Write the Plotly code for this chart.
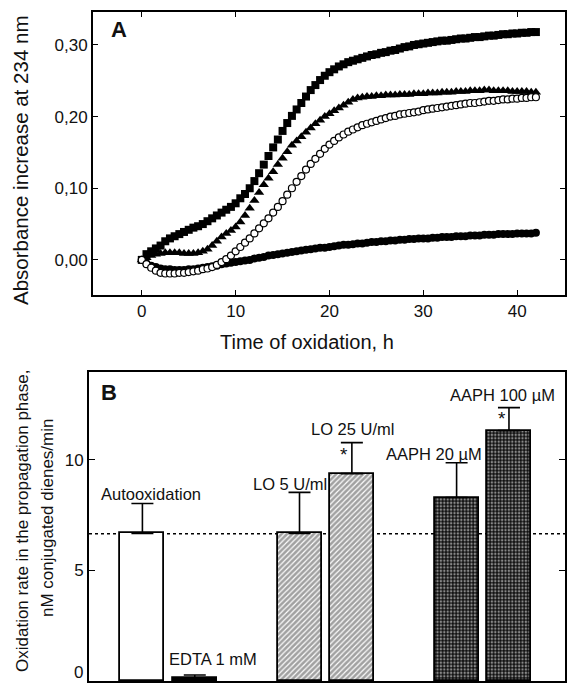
import plotly.graph_objects as go

# ---------------- Panel A data ----------------
time_h = [0, 0.5, 1, 1.5, 2, 2.5, 3, 3.5, 4, 4.5, 5, 5.5, 6, 6.5, 7, 7.5, 8, 8.5, 9, 9.5,
          10, 10.5, 11, 11.5, 12, 12.5, 13, 13.5, 14, 14.5, 15, 15.5, 16, 16.5, 17, 17.5,
          18, 18.5, 19, 19.5, 20, 20.5, 21, 21.5, 22, 22.5, 23, 23.5, 24, 24.5, 25, 25.5,
          26, 26.5, 27, 27.5, 28, 28.5, 29, 29.5, 30, 30.5, 31, 31.5, 32, 32.5, 33, 33.5,
          34, 34.5, 35, 35.5, 36, 36.5, 37, 37.5, 38, 38.5, 39, 39.5, 40, 40.5, 41, 41.5, 42]

squares = [0.000, 0.008, 0.012, 0.016, 0.020, 0.026, 0.030, 0.033, 0.036, 0.039,
           0.042, 0.045, 0.047, 0.050, 0.054, 0.058, 0.062, 0.066, 0.070, 0.074,
           0.079, 0.086, 0.092, 0.100, 0.110, 0.121, 0.133, 0.145, 0.157, 0.168,
           0.180, 0.191, 0.201, 0.210, 0.219, 0.228, 0.237, 0.244, 0.251, 0.257,
           0.262, 0.266, 0.270, 0.273, 0.276, 0.278, 0.280, 0.282, 0.284, 0.286,
           0.287, 0.289, 0.290, 0.292, 0.293, 0.295, 0.297, 0.298, 0.300, 0.301,
           0.302, 0.303, 0.304, 0.305, 0.306, 0.306, 0.307, 0.308, 0.309, 0.309,
           0.310, 0.311, 0.311, 0.312, 0.313, 0.313, 0.314, 0.315, 0.315, 0.316,
           0.316, 0.317, 0.317, 0.318, 0.318]

triangles = [0.000, 0.003, 0.006, 0.008, 0.009, 0.010, 0.010, 0.010, 0.010, 0.009,
             0.009, 0.009, 0.010, 0.012, 0.015, 0.020, 0.026, 0.032, 0.037, 0.041,
             0.046, 0.053, 0.062, 0.072, 0.083, 0.094, 0.105, 0.114, 0.123, 0.133,
             0.142, 0.151, 0.160, 0.166, 0.172, 0.178, 0.184, 0.190, 0.195, 0.200,
             0.204, 0.208, 0.212, 0.216, 0.220, 0.224, 0.226, 0.227, 0.228, 0.228,
             0.229, 0.229, 0.230, 0.230, 0.230, 0.231, 0.231, 0.231, 0.232, 0.232,
             0.232, 0.233, 0.233, 0.233, 0.234, 0.234, 0.234, 0.235, 0.235, 0.235,
             0.236, 0.236, 0.236, 0.237, 0.237, 0.236, 0.236, 0.236, 0.236, 0.235,
             0.235, 0.235, 0.235, 0.234, 0.234]

open_circles = [0.000, -0.006, -0.011, -0.015, -0.018, -0.019, -0.019, -0.019, -0.018, -0.018,
                -0.017, -0.016, -0.015, -0.013, -0.012, -0.010, -0.007, -0.003, 0.001, 0.006,
                0.012, 0.018, 0.024, 0.030, 0.037, 0.044, 0.051, 0.058, 0.066, 0.074,
                0.082, 0.091, 0.100, 0.109, 0.117, 0.126, 0.134, 0.141, 0.148, 0.155,
                0.161, 0.166, 0.171, 0.175, 0.179, 0.182, 0.185, 0.188, 0.190, 0.192,
                0.194, 0.196, 0.198, 0.200, 0.201, 0.203, 0.204, 0.205, 0.206, 0.207,
                0.209, 0.210, 0.211, 0.212, 0.213, 0.214, 0.215, 0.216, 0.217, 0.218,
                0.219, 0.219, 0.220, 0.221, 0.222, 0.222, 0.223, 0.224, 0.224, 0.225,
                0.225, 0.226, 0.226, 0.227, 0.227]

filled_circles = [0.000, -0.005, -0.008, -0.010, -0.012, -0.013, -0.013, -0.014, -0.014, -0.014,
                  -0.013, -0.013, -0.012, -0.011, -0.010, -0.009, -0.008, -0.006, -0.005, -0.004,
                  -0.003, -0.002, -0.001, 0.000, 0.002, 0.003, 0.004, 0.006, 0.007, 0.008,
                  0.009, 0.010, 0.011, 0.012, 0.013, 0.014, 0.015, 0.016, 0.017, 0.017,
                  0.018, 0.019, 0.020, 0.021, 0.021, 0.022, 0.023, 0.023, 0.024, 0.025,
                  0.025, 0.026, 0.026, 0.027, 0.027, 0.028, 0.028, 0.029, 0.029, 0.030,
                  0.030, 0.030, 0.031, 0.031, 0.032, 0.032, 0.032, 0.033, 0.033, 0.033,
                  0.034, 0.034, 0.034, 0.035, 0.035, 0.035, 0.036, 0.036, 0.036, 0.036,
                  0.037, 0.037, 0.037, 0.037, 0.038]

a_xticks = [0, 10, 20, 30, 40]
a_yticks = [0.0, 0.1, 0.2, 0.3]

# ---------------- Panel B data ----------------
conditions = ["Autooxidation", "EDTA 1 mM", "LO 5 U/ml", "LO 25 U/ml", "AAPH 20 µM", "AAPH 100 µM"]
rates = [6.67, 0.13, 6.67, 9.37, 8.29, 11.31]
rate_err = [1.35, 0.14, 1.85, 1.40, 1.57, 1.04]
significant = [False, False, False, True, False, True]
baseline_rate = 6.65
b_yticks = [5, 10]
b_zero_label = "0"

# ---------------- layout / style ----------------
FONT = "Liberation Sans, Arial, Helvetica, sans-serif"
W, H = 567, 683
bar_slots = [0, 1, 3, 4, 6, 7]
fills = ["white", "black", "white", "white", "#111111", "#111111"]
shapes_pat = ["", "", "/", "/", ".", "."]
pat_fg = ["black", "black", "black", "black", "white", "white"]
pat_bg = ["white", "black", "white", "white", "#111111", "#111111"]
label_pos = [(0.17, 8.47), (1.35, 0.99), (2.81, 8.92), (4.02, 11.4), (5.56, 10.27), (6.87, 12.93)]
star_pos = [None, None, None, (3.84, 10.25), None, (6.87, 11.85)]

fig = go.Figure()

def sc(y, symbol, size, fill, lw=0):
    return go.Scatter(x=time_h, y=y, mode="markers", xaxis="x", yaxis="y",
                      marker=dict(symbol=symbol, size=size, color=fill,
                                  line=dict(color="black", width=lw)),
                      showlegend=False, hoverinfo="skip")

fig.add_trace(sc(filled_circles, "circle", 8, "black"))
fig.add_trace(sc(triangles, "triangle-up", 9, "black"))
fig.add_trace(sc(squares, "square", 8, "black"))
fig.add_trace(sc(open_circles, "circle", 7, "white", 1.2))

fig.add_trace(go.Bar(
    x=bar_slots, y=rates, width=0.84, xaxis="x2", yaxis="y2",
    marker=dict(color=fills, line=dict(color="black", width=1.8),
                pattern=dict(shape=shapes_pat, fgcolor=pat_fg, bgcolor=pat_bg,
                             size=[8, 8, 3.8, 3.8, 3.4, 3.4],
                             solidity=[0.3, 0.3, 0.7, 0.7, 0.4, 0.4])),
    error_y=dict(type="data", symmetric=False, array=rate_err, arrayminus=[0] * len(rates),
                 color="black", thickness=1.6, width=11),
    showlegend=False, hoverinfo="skip"))

ax_common = dict(showline=True, linecolor="black", linewidth=1.8, mirror="ticks",
                 ticks="inside", tickcolor="black", tickwidth=1.4, ticklen=5,
                 showgrid=False, zeroline=False,
                 tickfont=dict(family=FONT, size=17, color="#111"))

fig.update_layout(
    width=W, height=H, margin=dict(l=0, r=0, t=0, b=0),
    paper_bgcolor="white", plot_bgcolor="white", separators=",.",
    font=dict(family=FONT, color="#111"),
    xaxis=dict(domain=[93 / W, 565 / W], anchor="y", range=[-5.2, 45.1],
               tickvals=a_xticks, **ax_common),
    yaxis=dict(domain=[1 - 295 / H, 1 - 12 / H], anchor="x", range=[-0.049, 0.346],
               tickvals=a_yticks, tickformat=".2f", **ax_common),
    xaxis2=dict(domain=[89 / W, 565 / W], anchor="y2", range=[-1.02, 8.07],
                showticklabels=False, showline=True, linecolor="black", linewidth=1.8,
                mirror=True, ticks="", showgrid=False, zeroline=False),
    yaxis2=dict(domain=[1 - 681 / H, 1 - 372 / H], anchor="x2", range=[0, 13.96],
                tickvals=b_yticks, **{**ax_common, "ticklen": 6}),
    bargap=0,
)

fig.add_shape(type="line", xref="x2 domain", x0=0, x1=1, yref="y2", y0=baseline_rate,
              y1=baseline_rate, line=dict(color="black", width=1.5, dash="dot"), layer="below")

ann = []
def txt(text, x, y, size, xref="paper", yref="paper", angle=0, bold=False, xanchor="center"):
    ann.append(dict(text=f"<b>{text}</b>" if bold else text, x=x, y=y, xref=xref, yref=yref,
                    showarrow=False, textangle=angle, xanchor=xanchor, yanchor="middle",
                    font=dict(family=FONT, size=size, color="#111")))

txt("Absorbance increase at 234 nm", 20 / W, 1 - 161 / H, 20.5, angle=-90)
txt("Time of oxidation, h", 307 / W, 1 - 342 / H, 20)
txt("A", 109 / W, 1 - 30 / H, 22, bold=True, xanchor="left")
txt("B", 99 / W, 1 - 392 / H, 22, bold=True, xanchor="left")
txt("Oxidation rate in the propagation phase,", 22 / W, 1 - 521 / H, 17, angle=-90)
txt("nM conjugated dienes/min", 47 / W, 1 - 518 / H, 17, angle=-90)
# panel B "0" tick label: sits at the very bottom edge, nudged up to stay visible
ann.append(dict(text=b_zero_label, x=85 / W, y=1 - 672 / H, xref="paper", yref="paper",
                showarrow=False, xanchor="right", yanchor="middle",
                font=dict(family=FONT, size=17, color="#111")))
for name, (lx, ly), sp, sig in zip(conditions, label_pos, star_pos, significant):
    txt(name, lx, ly, 16.5, xref="x2", yref="y2")
    if sig:
        txt("*", sp[0], sp[1], 19, xref="x2", yref="y2")
fig.update_layout(annotations=ann)

fig.write_html("out.html", config={"displayModeBar": False},
               post_script="document.body.style.margin='0';document.body.style.overflow='hidden';")
